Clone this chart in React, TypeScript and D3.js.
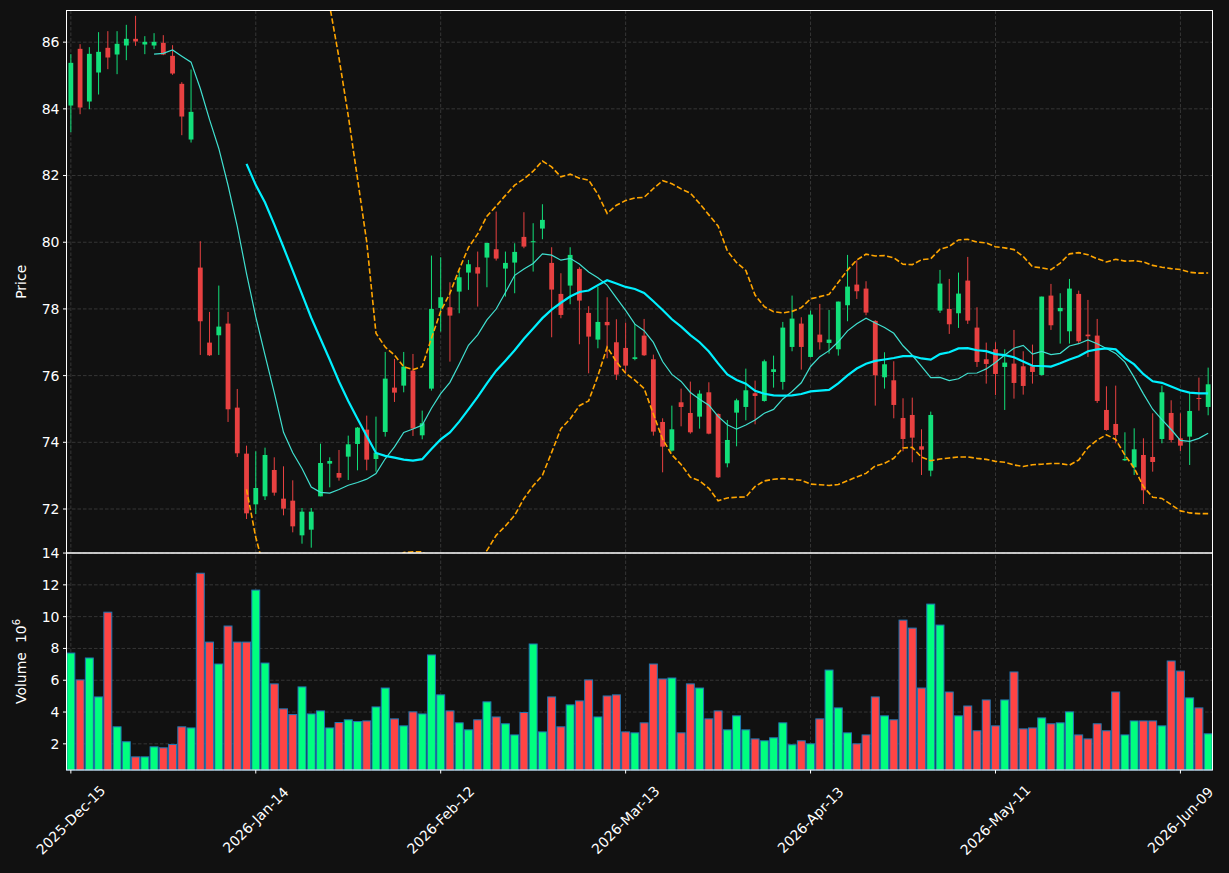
import * as d3 from "d3";

// daily OHLC, index 0 = 2025-12-15
const opens = [
  84.10, 85.80, 84.22, 85.09, 85.83, 85.63, 85.90, 86.10, 85.93, 85.90,
  85.98, 85.59, 84.75, 83.08, 79.24, 76.99, 77.21, 77.56, 75.04, 73.66,
  72.14, 72.38, 73.17, 72.31, 72.25, 71.21, 71.38, 72.38, 73.36, 73.08,
  73.57, 73.95, 74.38, 73.50, 74.31, 75.64, 75.70, 76.15, 74.21, 75.61,
  78.03, 78.05, 78.52, 79.09, 79.25, 79.54, 79.79, 79.21, 79.39, 80.16,
  80.01, 80.41, 79.38, 78.45, 78.70, 79.20, 77.88, 77.08, 77.61, 77.00,
  76.83, 76.50, 77.20, 76.49, 74.61, 73.75, 75.20, 74.88, 74.77, 75.50,
  74.85, 73.37, 74.89, 75.06, 75.47, 75.24, 76.11, 75.81, 76.86, 77.56,
  76.56, 77.23, 76.98, 76.79, 78.11, 78.73, 78.61, 77.64, 75.95, 75.86,
  74.73, 74.82, 73.88, 73.15, 77.95, 78.00, 77.87, 78.85, 77.44, 76.49,
  76.79, 76.26, 76.36, 76.28, 76.28, 76.02, 78.40, 77.93, 77.33, 78.45,
  77.23, 77.20, 74.97, 74.55, 73.46, 73.25, 73.62, 73.56, 74.10, 74.88,
  74.12, 74.17, 75.33, 75.06,
];
const highs = [
  85.64, 85.94, 85.85, 86.30, 86.33, 86.33, 86.52, 86.79, 86.18, 86.27,
  86.21, 85.91, 84.80, 85.18, 80.03, 77.91, 78.70, 77.91, 75.60, 73.90,
  73.73, 73.84, 73.55, 73.28, 72.86, 72.03, 72.03, 73.96, 73.55, 73.77,
  74.20, 74.46, 74.80, 74.77, 76.71, 76.50, 76.71, 76.65, 74.95, 79.60,
  79.55, 78.80, 79.15, 79.47, 79.72, 79.98, 80.92, 79.72, 79.97, 80.90,
  80.57, 81.14, 79.85, 79.07, 79.85, 79.25, 78.08, 78.67, 78.35, 77.69,
  77.59, 77.55, 77.70, 76.63, 74.72, 75.10, 75.61, 75.82, 75.56, 75.80,
  74.87, 74.67, 75.31, 76.21, 75.85, 76.48, 76.60, 77.61, 78.40, 77.75,
  77.95, 78.15, 77.97, 78.22, 79.62, 79.46, 78.83, 77.66, 76.70, 76.43,
  75.32, 75.34, 74.39, 74.92, 79.17, 78.90, 79.09, 79.56, 78.05, 76.99,
  77.00, 76.79, 77.37, 76.73, 76.93, 78.37, 78.75, 78.47, 78.90, 78.55,
  78.27, 77.70, 75.68, 75.70, 74.30, 74.42, 74.12, 74.87, 75.70, 75.26,
  74.87, 75.48, 75.94, 76.24,
];
const lows = [
  83.30, 83.84, 83.99, 84.43, 85.19, 85.04, 85.46, 85.89, 85.64, 85.79,
  85.61, 85.02, 83.21, 82.99, 76.62, 76.59, 76.62, 74.61, 73.56, 71.70,
  71.85, 72.27, 72.40, 71.81, 71.30, 70.96, 70.84, 72.38, 72.65, 72.85,
  72.87, 73.16, 73.16, 73.12, 74.17, 75.21, 75.50, 74.19, 74.09, 75.55,
  77.32, 76.42, 77.87, 78.57, 78.07, 78.65, 79.45, 78.37, 78.47, 79.82,
  79.12, 80.09, 77.15, 77.72, 78.14, 76.94, 76.07, 76.82, 76.52, 75.87,
  76.09, 76.46, 76.59, 74.20, 73.10, 73.72, 74.48, 74.26, 74.41, 74.24,
  72.93, 73.25, 73.88, 74.66, 74.54, 75.22, 75.64, 75.58, 76.73, 76.18,
  76.55, 76.78, 76.66, 76.60, 77.63, 78.30, 77.81, 75.10, 75.61, 74.72,
  73.73, 73.40, 73.02, 72.98, 77.88, 77.25, 77.43, 77.55, 76.26, 75.76,
  75.42, 74.97, 75.31, 75.43, 75.76, 76.00, 77.37, 76.96, 76.96, 76.96,
  76.56, 75.18, 74.35, 73.97, 73.44, 73.02, 72.15, 73.12, 73.97, 73.99,
  73.74, 73.32, 74.95, 74.81,
];
const closes = [
  85.38, 84.04, 85.65, 85.71, 85.54, 85.95, 86.10, 86.02, 86.01, 86.01,
  85.63, 85.06, 83.77, 83.91, 77.63, 76.61, 77.47, 74.99, 73.67, 71.87,
  72.63, 73.62, 72.49, 72.01, 71.48, 71.92, 71.92, 73.38, 73.44, 72.94,
  73.94, 74.44, 73.48, 73.69, 75.91, 75.49, 76.27, 74.41, 74.57, 78.00,
  78.35, 77.80, 78.95, 79.34, 79.06, 79.98, 79.51, 79.38, 79.71, 79.87,
  80.03, 80.67, 78.58, 77.82, 79.62, 78.25, 77.17, 77.61, 77.51, 76.03,
  76.30, 76.55, 76.61, 74.32, 73.87, 74.39, 75.06, 74.30, 75.46, 74.26,
  72.95, 74.07, 75.26, 75.56, 75.39, 76.43, 76.19, 77.44, 77.71, 76.86,
  77.83, 77.00, 77.08, 78.22, 78.67, 78.53, 77.89, 76.01, 76.34, 75.12,
  74.10, 74.14, 73.78, 74.82, 78.76, 77.54, 78.46, 77.65, 76.41, 76.35,
  76.05, 76.39, 75.78, 75.69, 76.11, 78.37, 77.51, 78.03, 78.61, 77.03,
  77.18, 75.24, 74.37, 74.22, 73.50, 73.79, 72.56, 73.41, 75.50, 74.07,
  73.90, 74.94, 75.30, 75.74,
];
// volume in millions
const volumes = [
  7.71, 6.02, 7.40, 4.95, 10.28, 3.07, 2.13, 1.18, 1.18, 1.81,
  1.75, 1.96, 3.07, 3.00, 12.73, 8.40, 7.02, 9.41, 8.40, 8.40,
  11.67, 7.08, 5.77, 4.20, 3.84, 5.58, 3.88, 4.07, 3.00, 3.34,
  3.51, 3.40, 3.44, 4.32, 5.51, 3.57, 3.13, 4.01, 3.88, 7.59,
  5.08, 4.07, 3.32, 2.88, 3.51, 4.64, 3.69, 3.26, 2.56, 3.97,
  8.28, 2.75, 4.95, 3.07, 4.45, 4.70, 6.02, 3.69, 5.01, 5.08,
  2.75, 2.69, 3.32, 7.02, 6.08, 6.14, 2.69, 5.77, 5.51, 3.57,
  4.07, 2.88, 3.76, 2.88, 2.31, 2.19, 2.38, 3.32, 1.94, 2.19,
  2.00, 3.57, 6.64, 4.26, 2.69, 2.00, 2.56, 4.95, 3.76, 3.51,
  9.78, 9.28, 5.51, 10.79, 9.47, 5.26, 3.76, 4.38, 2.82, 4.76,
  3.13, 4.76, 6.52, 2.94, 3.00, 3.63, 3.26, 3.32, 4.01, 2.56,
  2.31, 3.26, 2.82, 5.26, 2.56, 3.44, 3.44, 3.44, 3.13, 7.21,
  6.58, 4.89, 4.26, 2.63,
];
const xTickIdx = [0, 20, 40, 60, 80, 100, 120];
const xTickLabels = [
  "2025-Dec-15", "2026-Jan-14", "2026-Feb-12", "2026-Mar-13",
  "2026-Apr-13", "2026-May-11", "2026-Jun-09",
];

const W = 1229;
const H = 873;
const left = 66.5;
const right = 1212.5;
const top = 10.5;
const split = 553;
const bottom = 770;

const upColor = "#12e07a";
const downColor = "#e84141";
const font = "DejaVu Sans, sans-serif";

const rolling = (w: number, f: (a: number[]) => number | undefined) =>
  closes.map((_, i) => (i < w - 1 ? null : f(closes.slice(i - w + 1, i + 1)) ?? null));

const App = () => {
  const n = closes.length;
  const x = d3.scaleLinear().domain([-0.47, n - 1 + 0.47]).range([left, right]);
  const lo = d3.min(lows)!;
  const hi = d3.max(highs)!;
  const pad = (hi - lo) * 0.01;
  const yP = d3.scaleLinear().domain([lo - pad, hi + pad]).range([split, top]);
  const yV = d3
    .scaleLinear()
    .domain([0.3 * d3.min(volumes)!, 1.1 * d3.max(volumes)!])
    .range([bottom, split]);
  const step = x(1) - x(0);

  const mav10 = rolling(10, (a) => d3.mean(a));
  const mav20 = rolling(20, (a) => d3.mean(a));
  const sd20 = rolling(20, (a) => d3.deviation(a));
  const upper = mav20.map((m, i) => (m == null ? null : m + 2 * sd20[i]!));
  const lower = mav20.map((m, i) => (m == null ? null : m - 2 * sd20[i]!));

  const line = d3
    .line<number | null>()
    .defined((d) => d != null)
    .x((_, i) => x(i))
    .y((d) => yP(d as number));

  const priceTicks = d3.range(72, 87, 2);
  const volTicks = yV.ticks(7).filter((t) => t > 0);
  const bodyW = step * 0.52;
  const volW = step * 0.86;

  return (
    <svg width={W} height={H} style={{ position: "fixed", left: 0, top: 0 }} fontFamily={font}>
      <defs>
        <clipPath id="pclip">
          <rect x={left} y={top} width={right - left} height={split - top} />
        </clipPath>
      </defs>
      <rect width={W} height={H} fill="#111111" />

      {/* grid */}
      <g stroke="#3a3a3a" strokeWidth={0.9} strokeDasharray="3.5,2">
        {xTickIdx.map((t) => (
          <line key={t} x1={x(t)} x2={x(t)} y1={top} y2={bottom} />
        ))}
        {priceTicks.map((t) => (
          <line key={"p" + t} x1={left} x2={right} y1={yP(t)} y2={yP(t)} />
        ))}
        {volTicks.map((t) => (
          <line key={"v" + t} x1={left} x2={right} y1={yV(t)} y2={yV(t)} />
        ))}
      </g>

      {/* candles */}
      <g clipPath="url(#pclip)">
        {closes.map((c, i) => {
          const up = c >= opens[i];
          const col = up ? upColor : downColor;
          const yt = yP(Math.max(c, opens[i]));
          const yb = yP(Math.min(c, opens[i]));
          return (
            <g key={i}>
              <line x1={x(i)} x2={x(i)} y1={yP(highs[i])} y2={yP(lows[i])} stroke={col} strokeWidth={1} />
              <rect x={x(i) - bodyW / 2} y={yt} width={bodyW} height={Math.max(yb - yt, 1)} fill={col} />
            </g>
          );
        })}
        <path d={line(mav10) ?? ""} fill="none" stroke="#40e0d0" strokeWidth={1.2} />
        <path d={line(mav20) ?? ""} fill="none" stroke="#00f0ff" strokeWidth={2.2} />
        <path d={line(upper) ?? ""} fill="none" stroke="#ffa500" strokeWidth={1.6} strokeDasharray="5.5,2.4" />
        <path d={line(lower) ?? ""} fill="none" stroke="#ffa500" strokeWidth={1.6} strokeDasharray="5.5,2.4" />
      </g>

      {/* volume */}
      <g>
        {volumes.map((v, i) => (
          <rect
            key={i}
            x={x(i) - volW / 2}
            y={yV(v)}
            width={volW}
            height={bottom - yV(v)}
            fill={closes[i] >= opens[i] ? "#00ff7f" : "#ff4444"}
            stroke="#1f77b4"
            strokeWidth={1}
          />
        ))}
      </g>

      {/* spines */}
      <g fill="none" stroke="#ffffff" strokeWidth={1}>
        <rect x={left} y={top} width={right - left} height={split - top} />
        <rect x={left} y={split} width={right - left} height={bottom - split} />
      </g>

      {/* y ticks */}
      <g fill="#ffffff" fontSize={14} textAnchor="end">
        {priceTicks.map((t) => (
          <g key={t}>
            <line x1={left - 3.5} x2={left} y1={yP(t)} y2={yP(t)} stroke="#ffffff" />
            <text x={left - 7} y={yP(t)} dy="0.35em">{t}</text>
          </g>
        ))}
        {volTicks.map((t) => (
          <g key={"v" + t}>
            <line x1={left - 3.5} x2={left} y1={yV(t)} y2={yV(t)} stroke="#ffffff" />
            <text x={left - 7} y={yV(t)} dy="0.35em">{t}</text>
          </g>
        ))}
      </g>

      {/* x ticks */}
      <g fill="#ffffff" fontSize={14}>
        {xTickIdx.map((t, k) => (
          <g key={t}>
            <line x1={x(t)} x2={x(t)} y1={bottom} y2={bottom + 3.5} stroke="#ffffff" />
            <text
              transform={`translate(${x(t)},${820}) rotate(-45)`}
              textAnchor="middle"
              dy="0.35em"
            >
              {xTickLabels[k]}
            </text>
          </g>
        ))}
      </g>

      {/* axis labels */}
      <g fill="#ffffff" fontSize={14} textAnchor="middle">
        <text transform={`translate(26,${(top + split) / 2}) rotate(-90)`}>Price</text>
        <text transform={`translate(26,${(split + bottom) / 2}) rotate(-90)`}>
          Volume{"\u00a0\u00a0"}10
          <tspan fontSize={10} dy={-6}>6</tspan>
        </text>
      </g>
    </svg>
  );
};

export default App;
